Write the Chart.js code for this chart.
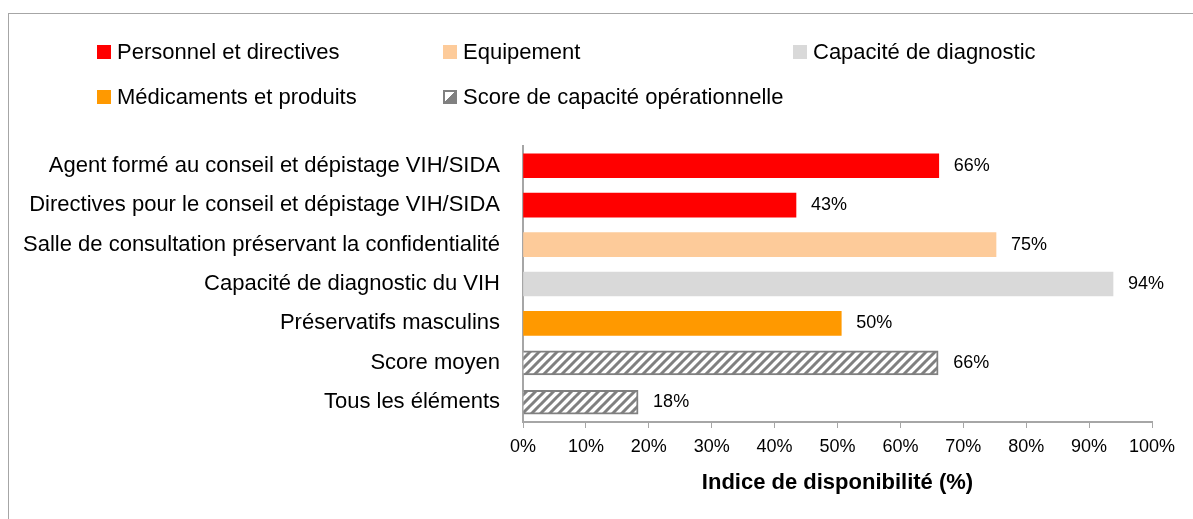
<!DOCTYPE html>
<html>
<head>
<meta charset="utf-8">
<script src="https://cdn.jsdelivr.net/npm/chart.js@4.4.1/dist/chart.umd.min.js"></script>
<style>
  html, body { margin: 0; padding: 0; background: #fff; }
  #wrap { position: relative; width: 1193px; height: 519px; overflow: hidden; font-family: "Liberation Sans", Arial, sans-serif; }
  #frame { position: absolute; left: 8px; top: 13px; width: 1200px; height: 520px; border: 1px solid #a6a6a6; box-sizing: border-box; }
  #chart { position: absolute; left: 0; top: 0; }
  .lg { position: absolute; font-size: 22px; color: #000; line-height: 26px; white-space: nowrap; }
  .lg .box { position: absolute; width: 14px; height: 14px; left: 0; top: 6px; box-sizing: border-box; }
  .lg .txt { position: absolute; left: 20px; top: 0; }
</style>
</head>
<body>
<div id="wrap">
  <div id="frame"></div>
  <canvas id="chart" width="1193" height="519"></canvas>
  <div id="legend"></div>
</div>
<script>
// ---- Data ----
const categories = [
  "Agent formé au conseil et dépistage VIH/SIDA",
  "Directives pour le conseil et dépistage VIH/SIDA",
  "Salle de consultation préservant la confidentialité",
  "Capacité de diagnostic du VIH",
  "Préservatifs masculins",
  "Score moyen",
  "Tous les éléments"
];
const values = [66.1, 43.4, 75.2, 93.8, 50.6, 66, 18.3];
const labelsPct = ["66%", "43%", "75%", "94%", "50%", "66%", "18%"];
const groupIndex = [0, 0, 1, 2, 3, 4, 4];
const groupNames = [
  "Personnel et directives",
  "Equipement",
  "Capacité de diagnostic",
  "Médicaments et produits",
  "Score de capacité opérationnelle"
];
const groupColors = ["#ff0000", "#fdcb9a", "#d9d9d9", "#ff9900", "hatch"];
const xTicks = [0, 10, 20, 30, 40, 50, 60, 70, 80, 90, 100];
const xTitle = "Indice de disponibilité (%)";

// ---- Hatch pattern ----
function makeHatch() {
  const c = document.createElement('canvas');
  c.width = 9; c.height = 9;
  const g = c.getContext('2d');
  g.fillStyle = '#ffffff';
  g.fillRect(0, 0, 9, 9);
  g.strokeStyle = '#808080';
  g.lineWidth = 3;
  g.beginPath();
  for (let k = -1; k <= 1; k++) {
    g.moveTo(k * 9 - 1, 10);
    g.lineTo(k * 9 + 10, -1);
  }
  g.stroke();
  return g.createPattern(c, 'repeat');
}
const hatch = makeHatch();

// ---- Legend (HTML) ----
const legendPos = [[97, 39], [443, 39], [793, 39], [97, 84], [443, 84]];
const legendEl = document.getElementById('legend');
groupNames.forEach((name, i) => {
  const d = document.createElement('div');
  d.className = 'lg';
  d.style.left = legendPos[i][0] + 'px';
  d.style.top = legendPos[i][1] + 'px';
  const b = document.createElement('span');
  b.className = 'box';
  if (groupColors[i] === 'hatch') {
    b.style.border = '2px solid #808080';
    b.style.background = 'linear-gradient(135deg, #fff 0 48%, #808080 48% 100%)';
  } else {
    b.style.background = groupColors[i];
  }
  const t = document.createElement('span');
  t.className = 'txt';
  t.textContent = name;
  d.appendChild(b); d.appendChild(t);
  legendEl.appendChild(d);
});

// ---- Datasets ----
const datasets = groupNames.map((name, gi) => ({
  label: name,
  data: values.map((v, i) => groupIndex[i] === gi ? v : null),
  backgroundColor: groupColors[gi] === 'hatch' ? hatch : groupColors[gi],
  borderColor: groupColors[gi] === 'hatch' ? '#808080' : 'rgba(0,0,0,0)',
  borderWidth: groupColors[gi] === 'hatch' ? 2 : 0,
  barThickness: 24,
  grouped: false
}));

const valueLabels = {
  id: 'valueLabels',
  afterDatasetsDraw(chart) {
    const ctx = chart.ctx;
    ctx.save();
    ctx.font = '18px "Liberation Sans", Arial, sans-serif';
    ctx.fillStyle = '#000';
    ctx.textBaseline = 'middle';
    ctx.textAlign = 'left';
    chart.data.datasets.forEach((ds, di) => {
      const meta = chart.getDatasetMeta(di);
      meta.data.forEach((el, i) => {
        const v = ds.data[i];
        if (v === null || v === undefined) return;
        ctx.fillText(labelsPct[i], el.x + 15, el.y);
      });
    });
    ctx.restore();
  }
};

new Chart(document.getElementById('chart'), {
  type: 'bar',
  data: { labels: categories, datasets },
  options: {
    indexAxis: 'y',
    responsive: false,
    animation: false,
    layout: { padding: { top: 146, right: 41, bottom: 0, left: 0 } },
    plugins: { legend: { display: false }, tooltip: { enabled: false } },
    scales: {
      x: {
        min: 0, max: 100,
        afterBuildTicks(scale) { scale.ticks = xTicks.map(v => ({ value: v })); },
        afterFit(scale) { scale.height = 97; },
        grid: { drawOnChartArea: false, drawTicks: true, tickLength: 6, color: '#a6a6a6', lineWidth: 1 },
        border: { color: '#a6a6a6', width: 2 },
        ticks: {
          padding: 8,
          color: '#000',
          font: { family: '"Liberation Sans", Arial, sans-serif', size: 18 },
          callback: v => v + '%',
          maxRotation: 0, autoSkip: false
        },
        title: {
          display: true, text: xTitle, color: '#000',
          font: { family: '"Liberation Sans", Arial, sans-serif', size: 22, weight: 'bold' },
          padding: { top: 4, bottom: 23 }
        }
      },
      y: {
        afterFit(scale) { scale.width = 523; },
        grid: { display: false },
        border: { color: '#a6a6a6', width: 2 },
        ticks: {
          padding: 15,
          color: '#000',
          font: { family: '"Liberation Sans", Arial, sans-serif', size: 22 },
          autoSkip: false
        }
      }
    }
  },
  plugins: [valueLabels]
});
</script>
</body>
</html>
